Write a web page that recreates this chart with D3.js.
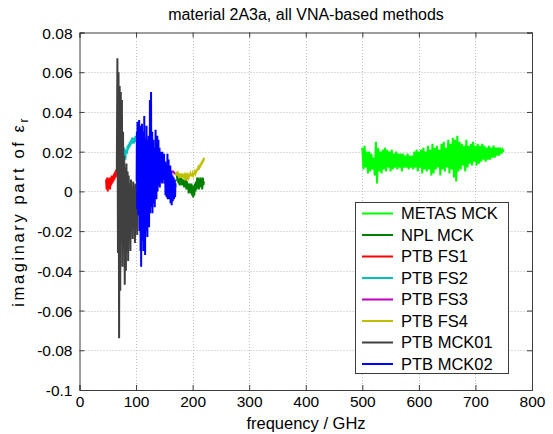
<!DOCTYPE html>
<html>
<head>
<meta charset="utf-8">
<script src="https://cdn.jsdelivr.net/npm/d3@7/dist/d3.min.js"></script>
<style>
  html, body { margin: 0; padding: 0; background: #fff; }
  svg { display: block; font-family: "Liberation Sans", Arial, sans-serif; }
</style>
</head>
<body>
<svg id="chart" width="553" height="434"></svg>
<script>
// Imaginary part of relative permittivity, material 2A3a, per VNA-based method.
// Each series is sampled on a regular frequency grid: start (GHz), step (GHz), values.

const seriesNames = ["METAS MCK", "NPL MCK", "PTB FS1", "PTB FS2", "PTB FS3", "PTB FS4", "PTB MCK01", "PTB MCK02"];
const seriesColors = ["#00ff00", "#008000", "#ff0000", "#00bfbf", "#bf00bf", "#bfbf00", "#404040", "#0000ff"];

const metasStart = 500, metasStep = 2;
const metasValues = [
  0.022, 0.011, 0.023, 0.012, 0.020, 0.009, 0.020, 0.010, 0.019, 0.011,
  0.017, 0.008, 0.025, 0.004, 0.022, 0.010, 0.020, 0.009, 0.021, 0.011,
  0.022, 0.010, 0.021, 0.012, 0.020, 0.010, 0.021, 0.011, 0.019, 0.012,
  0.020, 0.011, 0.019, 0.012, 0.019, 0.010, 0.019, 0.012, 0.018, 0.012,
  0.019, 0.011, 0.018, 0.012, 0.018, 0.011, 0.020, 0.012, 0.021, 0.010,
  0.020, 0.012, 0.021, 0.009, 0.022, 0.011, 0.020, 0.010, 0.023, 0.011,
  0.021, 0.008, 0.024, 0.009, 0.022, 0.011, 0.023, 0.012, 0.021, 0.008,
  0.024, 0.011, 0.025, 0.010, 0.022, 0.012, 0.026, 0.009, 0.024, 0.011,
  0.027, 0.007, 0.026, 0.005, 0.028, 0.010, 0.025, 0.011, 0.024, 0.013,
  0.023, 0.010, 0.026, 0.012, 0.023, 0.014, 0.024, 0.013, 0.025, 0.015,
  0.023, 0.013, 0.024, 0.014, 0.023, 0.015, 0.024, 0.016, 0.023, 0.015,
  0.022, 0.016, 0.023, 0.016, 0.022, 0.017, 0.023, 0.017, 0.022, 0.018,
  0.022, 0.018, 0.022, 0.019, 0.021, 0.020
];

const nplStart = 172, nplStep = 1;
const nplValues = [
  0.009, 0.005, 0.008, 0.004, 0.007, 0.003, 0.006, 0.004, 0.007, 0.003,
  0.006, 0.004, 0.006, 0.002, 0.005, 0.003, 0.006, 0.001, 0.005, 0.002,
  0.004, -0.001, 0.004, 0.000, 0.003, -0.001, 0.004, -0.002, 0.003, -0.003,
  0.002, -0.002, 0.004, 0.000, 0.005, 0.001, 0.007, 0.002, 0.007, 0.001,
  0.006, 0.002, 0.007, 0.003, 0.006, 0.001, 0.007, 0.003, 0.005
];

const fs1Start = 47, fs1Step = 1;
const fs1Values = [
  0.006, 0.001, 0.007, 0.000, 0.006, 0.002, 0.007, 0.001, 0.007, 0.003,
  0.008, 0.004, 0.008, 0.005, 0.009, 0.006, 0.010, 0.007, 0.011, 0.008,
  0.011, 0.009, 0.012, 0.010, 0.011, 0.010, 0.011, 0.009, 0.011
];

const fs2Start = 75, fs2Step = 1;
const fs2Values = [
  0.020, 0.017, 0.021, 0.018, 0.022, 0.019, 0.016, 0.020, 0.021, 0.019,
  0.023, 0.021, 0.024, 0.022, 0.025, 0.023, 0.026, 0.024, 0.027, 0.025,
  0.027, 0.024, 0.027, 0.025, 0.028, 0.025, 0.027, 0.026, 0.028, 0.026,
  0.027, 0.026, 0.028, 0.027, 0.027, 0.028
];

const fs3Start = 110, fs3Step = 2;
const fs3Values = [
  0.026, 0.027, 0.025, 0.026, 0.024, 0.023, 0.022, 0.021, 0.020, 0.019,
  0.018, 0.017, 0.016, 0.015, 0.015, 0.014, 0.014, 0.013, 0.013, 0.012,
  0.012, 0.012, 0.011, 0.011, 0.011, 0.010, 0.010, 0.010, 0.010, 0.009,
  0.009
];

const fs4Start = 170, fs4Step = 1;
const fs4Values = [
  0.009, 0.008, 0.010, 0.008, 0.009, 0.008, 0.009, 0.007, 0.009, 0.008,
  0.008, 0.007, 0.009, 0.008, 0.008, 0.007, 0.008, 0.007, 0.008, 0.007,
  0.008, 0.007, 0.008, 0.007, 0.008, 0.008, 0.009, 0.008, 0.008, 0.008,
  0.009, 0.008, 0.009, 0.009, 0.010, 0.009, 0.010, 0.010, 0.011, 0.011,
  0.012, 0.011, 0.013, 0.012, 0.014, 0.013, 0.015, 0.014, 0.016, 0.015,
  0.017
];

const mck01Start = 66, mck01Step = 1;
const mck01Values = [
  0.010, 0.067, -0.031, 0.060, -0.074, 0.053, -0.050, 0.050, -0.020, 0.046,
  -0.038, 0.030, -0.028, 0.018, -0.047, 0.012, -0.040, 0.014, -0.030, 0.010,
  -0.035, 0.008, -0.020, 0.004, -0.030, 0.006, -0.012, 0.002, -0.024, 0.005,
  -0.010, 0.003, -0.026, 0.004, -0.018, 0.000, -0.022, -0.004, -0.010
];

const mck02Start = 101, mck02Step = 0.5;
const mck02Values = [
  0.005, 0.030, -0.009, 0.035, 0.010, 0.028, -0.012, 0.030, 0.002, 0.036,
  -0.020, 0.024, -0.005, 0.033, -0.030, 0.028, -0.038, 0.020, -0.015, 0.034,
  -0.025, 0.022, -0.010, 0.030, -0.030, 0.015, -0.008, 0.038, 0.000, 0.025,
  -0.032, 0.018, -0.020, 0.025, -0.015, 0.033, -0.005, 0.020, -0.023, 0.022,
  -0.010, 0.026, 0.000, 0.028, -0.018, 0.018, -0.005, 0.046, -0.011, 0.030,
  0.002, 0.050, -0.008, 0.025, 0.004, 0.030, -0.011, 0.020, 0.003, 0.026,
  -0.006, 0.018, 0.000, 0.022, -0.008, 0.015, 0.002, 0.031, 0.004, 0.024,
  -0.004, 0.020, 0.006, 0.028, 0.000, 0.019, 0.008, 0.026, 0.003, 0.017,
  0.007, 0.022, 0.002, 0.016, 0.006, 0.020, 0.005, 0.014, 0.008, 0.018,
  0.004, 0.020, 0.007, 0.013, 0.006, 0.016, 0.008, 0.019, 0.004, 0.014,
  0.007, 0.015, -0.002, 0.010, 0.003, 0.012, -0.003, 0.014, 0.004, 0.019,
  -0.004, 0.010, 0.002, 0.016, 0.001, 0.012, -0.004, 0.009, 0.002, 0.013,
  -0.006, 0.008, 0.000, 0.010, -0.007, 0.006, 0.001, 0.008, -0.005, 0.006,
  0.002, 0.007, -0.004, 0.005, 0.001, 0.006, -0.003, 0.004, 0.002
];

const xTicks = [0, 100, 200, 300, 400, 500, 600, 700, 800];
const yTicks = [-0.1, -0.08, -0.06, -0.04, -0.02, 0, 0.02, 0.04, 0.06, 0.08];
const yTickLabels = ["-0.1", "-0.08", "-0.06", "-0.04", "-0.02", "0", "0.02", "0.04", "0.06", "0.08"];

// Series table built from the arrays above (drawing order = legend order)
const grids = [
  [metasStart, metasStep, metasValues],
  [nplStart, nplStep, nplValues],
  [fs1Start, fs1Step, fs1Values],
  [fs2Start, fs2Step, fs2Values],
  [fs3Start, fs3Step, fs3Values],
  [fs4Start, fs4Step, fs4Values],
  [mck01Start, mck01Step, mck01Values],
  [mck02Start, mck02Step, mck02Values]
];
const series = seriesNames.map((name, k) => ({
  name,
  color: seriesColors[k],
  points: grids[k][2].map((v, i) => [grids[k][0] + i * grids[k][1], v])
}));

const svg = d3.select("#chart");
const margin = { left: 79.5, right: 21, top: 32.5, bottom: 44 };
const W = 553, H = 434;
const x = d3.scaleLinear().domain([0, 800]).range([margin.left, W - margin.right]);
const y = d3.scaleLinear().domain([-0.1, 0.08]).range([H - margin.bottom, margin.top]);

const axisColor = "#3c3c3c";

// Dotted grid
const grid = svg.append("g");
grid.selectAll("line.gx").data(xTicks.slice(1, -1)).join("line")
  .attr("x1", d => Math.round(x(d)) + 0.5).attr("x2", d => Math.round(x(d)) + 0.5)
  .attr("y1", y(-0.1)).attr("y2", y(0.08))
  .attr("stroke", "#bdbdbd").attr("stroke-width", 1).attr("stroke-dasharray", "1,2");
grid.selectAll("line.gy").data(yTicks.slice(1, -1)).join("line")
  .attr("y1", d => Math.round(y(d)) + 0.5).attr("y2", d => Math.round(y(d)) + 0.5)
  .attr("x1", x(0)).attr("x2", x(800))
  .attr("stroke", "#bdbdbd").attr("stroke-width", 1).attr("stroke-dasharray", "1,2");

// Data lines
const line = d3.line().x(d => x(d[0])).y(d => y(d[1]));
const plot = svg.append("g");
plot.selectAll("path").data(series).join("path")
  .attr("d", d => line(d.points))
  .attr("fill", "none")
  .attr("stroke", d => d.color)
  .attr("stroke-width", 2)
  .attr("stroke-linejoin", "miter");

// Axes with inward ticks on all four sides
const tickLen = 5;
const axB = svg.append("g").attr("transform", `translate(0,${y(-0.1)})`)
  .call(d3.axisBottom(x).tickValues(xTicks).tickSize(-tickLen).tickPadding(8).tickFormat(d3.format("d")));
const axT = svg.append("g").attr("transform", `translate(0,${y(0.08)})`)
  .call(d3.axisTop(x).tickValues(xTicks).tickSize(-tickLen).tickFormat(""));
const axL = svg.append("g").attr("transform", `translate(${x(0)},0)`)
  .call(d3.axisLeft(y).tickValues(yTicks).tickSize(-tickLen).tickPadding(7)
    .tickFormat((d, i) => yTickLabels[i]));
const axR = svg.append("g").attr("transform", `translate(${x(800)},0)`)
  .call(d3.axisRight(y).tickValues(yTicks).tickSize(-tickLen).tickFormat(""));

[axB, axT, axL, axR].forEach(g => {
  g.selectAll(".domain").attr("stroke", axisColor).attr("stroke-width", 1);
  g.selectAll(".tick line").attr("stroke", axisColor);
  g.selectAll("text").attr("fill", "#000").style("font-size", "15.5px")
    .style("font-family", "'Liberation Sans', Arial, sans-serif");
});
axL.selectAll("text").attr("dy", "0.36em");
axB.selectAll("text").attr("dy", "0.6em");

// Title and axis labels
svg.append("text").attr("x", 306).attr("y", 20).attr("text-anchor", "middle")
  .style("font-size", "16px").attr("fill", "#000")
  .text("material 2A3a, all VNA-based methods");

svg.append("text").attr("x", 306).attr("y", 429).attr("text-anchor", "middle")
  .style("font-size", "16.5px").attr("fill", "#000")
  .text("frequency / GHz");

const yl = svg.append("text")
  .attr("transform", `translate(24,${(y(0.08) + y(-0.1)) / 2}) rotate(-90)`)
  .attr("text-anchor", "middle").style("font-size", "16.5px")
  .style("letter-spacing", "2.6px").attr("fill", "#000");
yl.append("tspan").text("imaginary part of ε");
yl.append("tspan").attr("dy", 4).style("font-size", "12px").text("r");

// Legend
const lg = svg.append("g");
lg.append("rect").attr("x", 355.5).attr("y", 202.5).attr("width", 153).attr("height", 171)
  .attr("fill", "#fff").attr("stroke", axisColor).attr("stroke-width", 1);
const rowH = 21.5;
const rows = lg.selectAll("g.row").data(series).join("g")
  .attr("transform", (d, i) => `translate(0,${213.5 + i * rowH})`);
rows.append("line").attr("x1", 362).attr("x2", 393).attr("y1", 0).attr("y2", 0)
  .attr("stroke", d => d.color).attr("stroke-width", 2);
rows.append("text").attr("x", 401).attr("y", 0).attr("dy", "0.36em")
  .style("font-size", "16.5px").attr("fill", "#000").text(d => d.name);
</script>
</body>
</html>
